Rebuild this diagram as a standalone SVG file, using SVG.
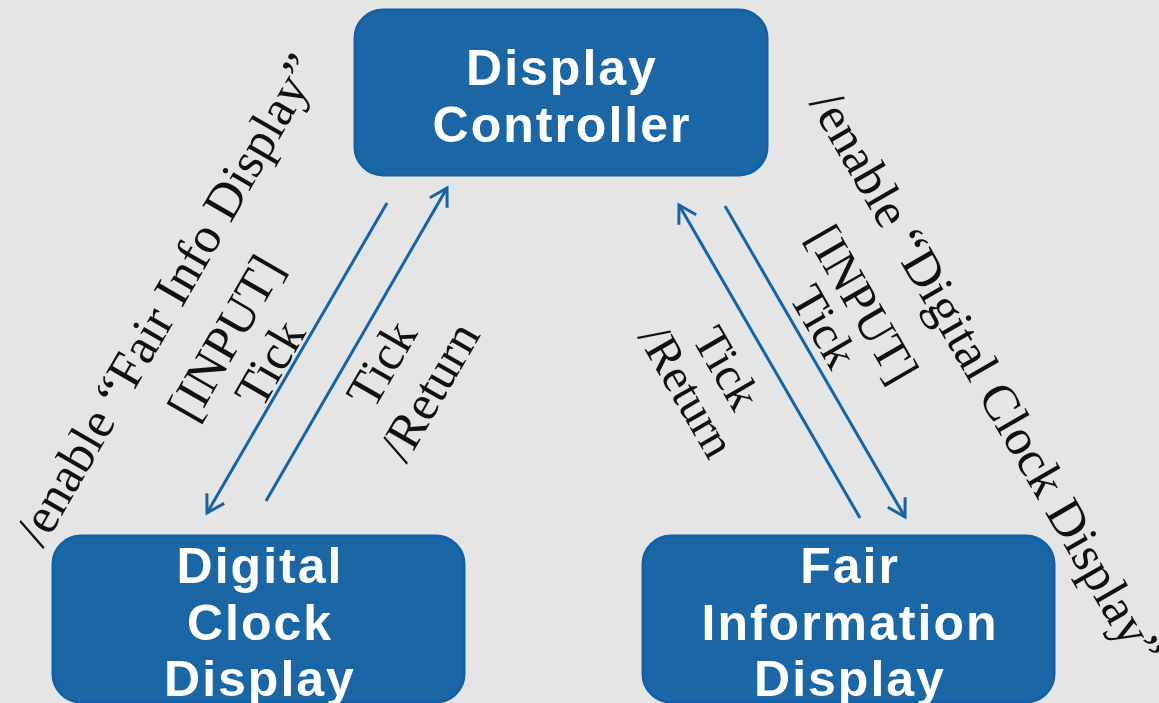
<svg xmlns="http://www.w3.org/2000/svg" width="1159" height="703" viewBox="0 0 1159 703">
<defs>
<style>
.box{fill:#1b67a6;stroke:#1160a8;stroke-width:3}
.bt{font-family:"Liberation Sans",Arial,sans-serif;font-weight:bold;font-size:50px;fill:#fff;text-anchor:middle;letter-spacing:2px}
.lbl{font-family:"Liberation Serif","Times New Roman",serif;font-size:50px;fill:#111;text-anchor:middle}
.lblo{font-family:"Liberation Serif","Times New Roman",serif;font-size:51px;fill:#111;text-anchor:middle}
.lblr{font-family:"Liberation Serif","Times New Roman",serif;font-size:48px;fill:#111;text-anchor:middle}
.lblro{font-family:"Liberation Serif","Times New Roman",serif;font-size:51px;fill:#111;text-anchor:middle}
.conn{stroke:#1663a5;stroke-width:3;fill:none}
</style>
<marker id="ah" markerUnits="userSpaceOnUse" orient="auto" refX="0" refY="0" markerWidth="40" markerHeight="40" viewBox="-20 -20 40 40" overflow="visible">
<path d="M-17,-10 L0,0 L-17,10" fill="none" stroke="#1663a5" stroke-width="3"/>
</marker>
</defs>
<rect width="1159" height="703" fill="#e5e5e5"/>
<g id="display-controller">
<rect class="box" x="355" y="10" width="412" height="165" rx="28"/>
<text class="bt" x="562" y="85">Display</text>
<text class="bt" x="562" y="142">Controller</text>
</g>
<g id="digital-clock-display">
<rect class="box" x="53" y="536" width="411" height="166" rx="28"/>
<text class="bt" x="260" y="583">Digital</text>
<text class="bt" x="260" y="640">Clock</text>
<text class="bt" x="260" y="696">Display</text>
</g>
<g id="fair-information-display">
<rect class="box" x="643" y="536" width="411" height="166" rx="28"/>
<text class="bt" x="850" y="583">Fair</text>
<text class="bt" x="850" y="640">Information</text>
<text class="bt" x="850" y="696">Display</text>
</g>
<g id="connectors">
<path class="conn" d="M387,203 L207,513" marker-end="url(#ah)"/>
<path class="conn" d="M266,501 L447,188" marker-end="url(#ah)"/>
<path class="conn" d="M860,518 L679,205" marker-end="url(#ah)"/>
<path class="conn" d="M725,206 L905,517" marker-end="url(#ah)"/>
</g>
<g id="labels">
<text class="lblo" transform="translate(182,308) rotate(-60)">/enable “Fair Info Display”</text>
<text class="lbl" transform="translate(240,346) rotate(-60)"><tspan x="0" y="0">[INPUT]</tspan><tspan x="0" y="51">Tick</tspan></text>
<text class="lbl" transform="translate(396,372) rotate(-60)"><tspan x="0" y="0">Tick</tspan><tspan x="0" y="55">/Return</tspan></text>
<text class="lblro" transform="translate(972,386) rotate(60)">/enable “Digital Clock Display”</text>
<text class="lblr" transform="translate(849,312) rotate(60)"><tspan x="0" y="0">[INPUT]</tspan><tspan x="0" y="45">Tick</tspan></text>
<text class="lblr" transform="translate(713,376) rotate(60)"><tspan x="0" y="0">Tick</tspan><tspan x="0" y="46">/Return</tspan></text>
</g>
</svg>
